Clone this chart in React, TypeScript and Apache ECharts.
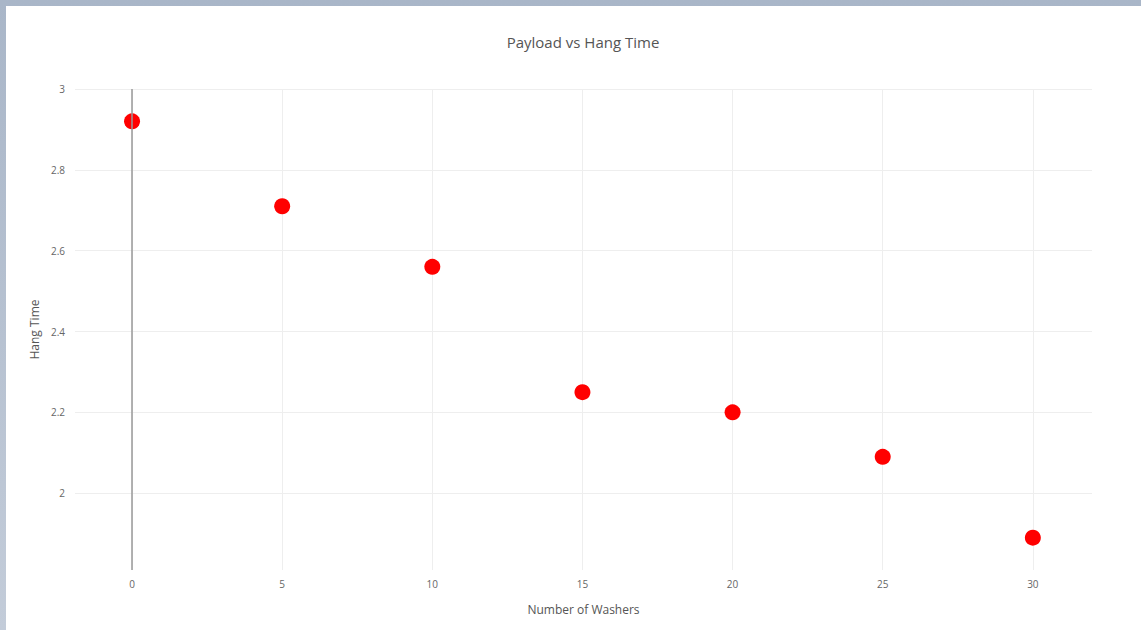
import React, { useEffect, useRef } from "react";
import * as echarts from "echarts";

const washers = [0, 5, 10, 15, 20, 25, 30];
const hangTime = [2.92, 2.71, 2.56, 2.25, 2.2, 2.09, 1.89];
const xTicks = [0, 5, 10, 15, 20, 25, 30];
const yTicks = [2, 2.2, 2.4, 2.6, 2.8, 3];

export default function App() {
  const ref = useRef<HTMLDivElement>(null);
  useEffect(() => {
    document.body.style.margin = "0";
    const chart = echarts.init(ref.current!, null, { renderer: "svg" });
    const font = "'Open Sans', sans-serif";
    chart.setOption({
      animation: false,
      backgroundColor: "#ffffff",
      title: {
        text: "Payload vs Hang Time",
        left: 572,
        top: 23,
        textAlign: "center",
        textStyle: { fontFamily: font, fontSize: 15, fontWeight: "normal", color: "#555" },
      },
      grid: { left: 69, right: 49, top: 83, bottom: 60, containLabel: false },
      xAxis: {
        type: "value",
        min: -1.9,
        max: 31.97,
        name: "Number of Washers",
        nameLocation: "middle",
        nameGap: 33,
        nameTextStyle: { fontFamily: font, fontSize: 12, color: "#555" },
        axisLine: { show: false },
        axisTick: { show: false, customValues: xTicks },
        axisLabel: { customValues: xTicks, fontFamily: font, fontSize: 10, color: "#666", margin: 9 },
        splitLine: { show: true, lineStyle: { color: "#eeeeee", width: 1 } },
      },
      yAxis: {
        type: "value",
        min: 1.81,
        max: 3.0,
        name: "Hang Time",
        nameLocation: "middle",
        nameGap: 32,
        nameTextStyle: { fontFamily: font, fontSize: 12, color: "#555" },
        axisLine: { show: false },
        axisTick: { show: false, customValues: yTicks },
        axisLabel: { customValues: yTicks, fontFamily: font, fontSize: 10, color: "#666", margin: 10 },
        splitLine: { show: true, lineStyle: { color: "#eeeeee", width: 1 } },
      },
      series: [
        {
          type: "scatter",
          data: washers.map((w, i) => [w, hangTime[i]]),
          symbolSize: 16,
          itemStyle: { color: "#ff0000", opacity: 1 },
          markLine: {
            silent: true,
            symbol: "none",
            label: { show: false },
            lineStyle: { color: "#999", width: 1.5, type: "solid" },
            data: [{ xAxis: 0 }],
          },
          z: 3,
        },
      ],
    });
    return () => chart.dispose();
  }, []);
  return (
    <div style={{ position: "absolute", left: 0, top: 0, width: 1141, height: 630, background: "linear-gradient(180deg,#a9b6c8,#c3ccd9)" }}>
      <div
        ref={ref}
        style={{ position: "absolute", left: 6, top: 6, width: 1135, height: 624, background: "#fff" }}
      />
    </div>
  );
}
